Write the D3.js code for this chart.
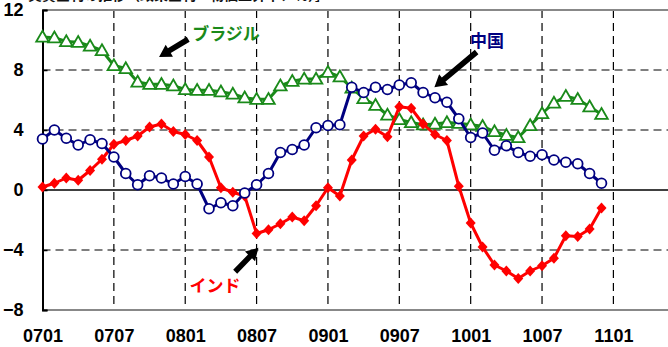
<!DOCTYPE html>
<html>
<head>
<meta charset="utf-8">
<script src="https://cdn.jsdelivr.net/npm/d3@7"></script>
<style>
  html, body { margin: 0; padding: 0; background: #fff; }
  svg { display: block; }
  .num { font-family: "Liberation Sans Narrow", "Liberation Sans", Arial, sans-serif; }
  .jp { font-family: "Noto Sans CJK JP", sans-serif; }
</style>
</head>
<body>
<svg id="chart" width="668" height="347"></svg>
<script>
// Monthly categories, Jan 2007 – Dec 2010
const months = [
  "0701","0702","0703","0704","0705","0706","0707","0708","0709","0710","0711","0712",
  "0801","0802","0803","0804","0805","0806","0807","0808","0809","0810","0811","0812",
  "0901","0902","0903","0904","0905","0906","0907","0908","0909","0910","0911","0912",
  "1001","1002","1003","1004","1005","1006","1007","1008","1009","1010","1011","1012"
];

// Real interest rate by country (%)
const brazil = [
  10.2, 10.15, 9.9, 9.85, 9.6, 9.3, 8.3, 8.1, 7.2, 7.05, 7.05, 6.95,
  6.7, 6.65, 6.65, 6.55, 6.4, 6.15, 6.05, 6.05, 6.95, 7.25, 7.4, 7.4,
  7.85, 7.55, 6.8, 6.1, 5.65, 5.0, 4.7, 4.5, 4.35, 4.4, 4.5, 4.45,
  4.35, 4.25, 3.9, 3.65, 3.5, 4.3, 5.1, 5.8, 6.25, 6.05, 5.55, 5.05
];
const china = [
  3.4, 4.0, 3.45, 3.0, 3.35, 3.1, 2.2, 1.1, 0.35, 0.95, 0.8, 0.4,
  0.9, 0.4, -1.25, -0.85, -1.05, -0.2, 0.35, 1.1, 2.5, 2.7, 3.0, 4.15,
  4.3, 4.35, 6.85, 6.5, 6.85, 6.7, 7.0, 7.15, 6.5, 6.15, 5.85, 4.75,
  3.5, 3.8, 2.65, 2.95, 2.5, 2.25, 2.35, 2.0, 1.85, 1.75, 1.1, 0.45
];
const india = [
  0.2, 0.45, 0.8, 0.65, 1.3, 2.05, 3.05, 3.3, 3.6, 4.2, 4.4, 3.9,
  3.7, 3.3, 2.2, 0.15, -0.15, -0.4, -2.9, -2.65, -2.25, -1.8, -2.05, -1.05,
  0.15, -0.4, 2.0, 3.6, 4.05, 3.55, 5.55, 5.45, 4.4, 3.7, 3.3, 0.25,
  -2.2, -3.8, -5.0, -5.4, -5.9, -5.4, -5.05, -4.55, -3.05, -3.1, -2.6, -1.2
];

const xTickLabels = ["0701","0707","0801","0807","0901","0907","1001","1007","1101"];
const yTicks = [12, 8, 4, 0, -4, -8];

const svg = d3.select("#chart");

const plotLeft = 42.5, plotTop = 10, plotBottom = 310, plotRight = 700;
const x = d3.scaleLinear().domain([0, 48]).range([plotLeft, 613.4]);
const y = d3.scaleLinear().domain([-8, 12]).range([plotBottom, plotTop]);

// Heading, mostly above the visible area
svg.append("text")
  .attr("class", "jp")
  .attr("x", 28).attr("y", -0.5)
  .attr("font-size", 14).attr("font-weight", "bold")
  .attr("fill", "#111")
  .text("実質金利の推移（政策金利－物価上昇率、％）］");

// Dashed grid
const grid = svg.append("g");
grid.selectAll("line.h")
  .data(yTicks.filter(v => v !== 12 && v !== -8 && v !== 0))
  .join("line")
  .attr("x1", plotLeft).attr("x2", plotRight)
  .attr("y1", d => y(d)).attr("y2", d => y(d))
  .attr("stroke", "#000").attr("stroke-width", 1.2)
  .attr("stroke-dasharray", "8,5");
grid.selectAll("line.v")
  .data(xTickLabels.slice(1).map((l, i) => (i + 1) * 6))
  .join("line")
  .attr("x1", d => x(d)).attr("x2", d => x(d))
  .attr("y1", plotTop).attr("y2", plotBottom)
  .attr("stroke", "#000").attr("stroke-width", 1.2)
  .attr("stroke-dasharray", "8,5");

// Frame
svg.append("line").attr("x1", plotLeft).attr("x2", plotRight)
  .attr("y1", plotTop).attr("y2", plotTop).attr("stroke", "#888").attr("stroke-width", 2);
svg.append("line").attr("x1", plotLeft).attr("x2", plotRight)
  .attr("y1", plotBottom).attr("y2", plotBottom).attr("stroke", "#888").attr("stroke-width", 2);
svg.append("line").attr("x1", plotLeft).attr("x2", plotRight)
  .attr("y1", y(0)).attr("y2", y(0)).attr("stroke", "#000").attr("stroke-width", 1.5);

// Y axis
const yAxis = d3.axisLeft(y).tickValues(yTicks).tickSize(-5).tickPadding(19)
  .tickFormat(d => d < 0 ? "−" + Math.abs(d) : String(d));
const yg = svg.append("g").attr("transform", `translate(${plotLeft},0)`).call(yAxis);
yg.select(".domain").attr("stroke", "#000").attr("stroke-width", 2);
yg.selectAll(".tick line").attr("stroke", "#000").attr("stroke-width", 1.5);
yg.selectAll(".tick text")
  .attr("class", "num")
  .attr("font-size", 18).attr("font-weight", "bold").attr("fill", "#000")
  .attr("font-family", null);

// X axis labels
const xAxis = d3.axisBottom(x)
  .tickValues(xTickLabels.map((l, i) => i * 6))
  .tickSize(0).tickPadding(19)
  .tickFormat((d, i) => xTickLabels[i]);
const xg = svg.append("g").attr("transform", `translate(0,${plotBottom})`).call(xAxis);
xg.select(".domain").remove();
xg.selectAll(".tick text")
  .attr("class", "num")
  .attr("font-size", 18).attr("font-weight", "bold").attr("fill", "#000")
  .attr("font-family", null);

// Series
const green = "#1a8a1a", navy = "#000080", red = "#ff0000";
const line = d3.line().x((d, i) => x(i)).y(d => y(d));

function drawLine(values, color) {
  svg.append("path").datum(values)
    .attr("d", line).attr("fill", "none")
    .attr("stroke", color).attr("stroke-width", 3)
    .attr("stroke-linejoin", "round");
}

// Brazil: open triangles
drawLine(brazil, green);
svg.append("g").selectAll("path")
  .data(brazil).join("path")
  .attr("d", (d, i) => {
    const cx = x(i), cy = y(d);
    return `M${cx},${cy - 6.3}L${cx + 6.3},${cy + 4.7}L${cx - 6.3},${cy + 4.7}Z`;
  })
  .attr("fill", "#fff").attr("stroke", green).attr("stroke-width", 1.8);

// India: filled diamonds
drawLine(india, red);
svg.append("g").selectAll("path")
  .data(india).join("path")
  .attr("d", (d, i) => {
    const cx = x(i), cy = y(d);
    return `M${cx},${cy - 5.5}L${cx + 5},${cy}L${cx},${cy + 5.5}L${cx - 5},${cy}Z`;
  })
  .attr("fill", red);

// China: open circles
drawLine(china, navy);
svg.append("g").selectAll("circle")
  .data(china).join("circle")
  .attr("cx", (d, i) => x(i)).attr("cy", d => y(d)).attr("r", 4.9)
  .attr("fill", "#fff").attr("stroke", navy).attr("stroke-width", 1.8);

// Annotation arrows (in data units: month index, %)
function arrow(m0, v0, m1, v1) {
  const x0 = x(m0), y0 = y(v0), x1 = x(m1), y1 = y(v1);
  const ang = Math.atan2(y1 - y0, x1 - x0);
  const headLen = 12, headW = 7, shaftW = 2.8;
  const bx = x1 - headLen * Math.cos(ang), by = y1 - headLen * Math.sin(ang);
  const px = -Math.sin(ang), py = Math.cos(ang);
  const pts = [
    [x0 + px * shaftW, y0 + py * shaftW],
    [bx + px * shaftW, by + py * shaftW],
    [bx + px * headW, by + py * headW],
    [x1, y1],
    [bx - px * headW, by - py * headW],
    [bx - px * shaftW, by - py * shaftW],
    [x0 - px * shaftW, y0 - py * shaftW]
  ];
  svg.append("path").attr("d", "M" + pts.map(p => p.join(",")).join("L") + "Z")
    .attr("fill", "#000");
}
arrow(12.25, 10.05, 9.8, 8.87);
arrow(36.5, 9.2, 32.95, 6.85);
arrow(16.2, -5.45, 18.15, -3.85);

// Series labels
function label(text, cx, by, color) {
  svg.append("text").attr("class", "jp")
    .attr("x", cx).attr("y", by).attr("text-anchor", "middle")
    .attr("font-size", 17).attr("font-weight", "bold").attr("fill", color)
    .text(text);
}
label("ブラジル", 226, 40, green);
label("中国", 487, 47, navy);
label("インド", 215, 292, red);
</script>
</body>
</html>
